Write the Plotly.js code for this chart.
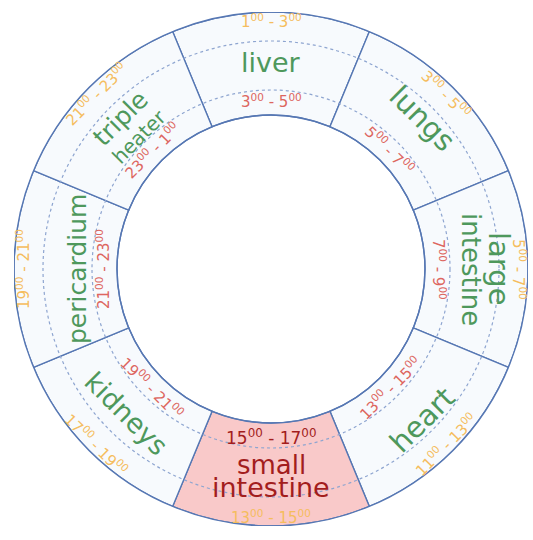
<!DOCTYPE html>
<html>
<head>
<meta charset="utf-8">
<script src="https://cdn.plot.ly/plotly-3.0.1.min.js"></script>
<style>html,body{margin:0;padding:0;background:#fff;}#chart{width:533px;height:540px;}</style>
</head>
<body>
<div id="chart"></div>
<script>
// ---- data ----
const organs = ['liver', 'lungs', 'large intestine', 'heart', 'small intestine', 'kidneys', 'pericardium', 'triple heater'];
const organLines = [['liver'], ['lungs'], ['large', 'intestine'], ['heart'], ['small', 'intestine'], ['kidneys'], ['pericardium'], ['triple', 'heater']];
const angles = [90, 45, 0, 315, 270, 225, 180, 135];
const outerFrom = [1, 3, 5, 11, 13, 17, 19, 21];
const outerTo = [3, 5, 7, 13, 15, 19, 21, 23];
const innerFrom = [3, 5, 7, 13, 15, 19, 21, 23];
const innerTo = [5, 7, 9, 15, 17, 21, 23, 1];
const highlighted = 'small intestine';

// ---- styles / geometry ----
const R_OUT = 257, R_IN = 154, R_DOT1 = 228, R_DOT2 = 179;
const SEG_WIDTH = 45;
const nameR = [207, 213, 214, 214, 207, 205, 194, 200];
const nameGap = [0, 0, 28, 0, 22, 0, 0, 26];
const nameSizes = [[27], [29], [29, 26], [29], [26, 27], [27], [25], [25, 20]];
const outerTimeR = 248, innerTimeR = 168;
const W = 533, H = 540, CX = 271, CY = 269;
const FONT = 'DejaVu Sans, sans-serif';
const C_GREEN = '#4e985c', C_ORANGE = '#f5bd5e', C_RED = '#dd665f', C_DARKRED = '#a31d1d';
const C_LINE = '#5677b3', C_FILL = '#f7fafd', C_PINK = '#f9c9c9', C_DOT = '#8ea5d0';

const fmt = h => h + '<sup>00</sup>';
const domX = [(CX - R_OUT) / W, (CX + R_OUT) / W];
const domY = [(H - CY - R_OUT) / H, (H - CY + R_OUT) / H];

const traces = [
  {
    type: 'barpolar',
    theta: angles,
    r: organs.map(() => R_OUT - R_IN),
    base: R_IN,
    width: organs.map(() => SEG_WIDTH),
    marker: {
      color: organs.map(o => o === highlighted ? C_PINK : C_FILL),
      line: {color: C_LINE, width: 1.4}
    },
    hoverinfo: 'skip',
    showlegend: false
  },
  {type: 'scatter', x: [], y: [], xaxis: 'x', yaxis: 'y', hoverinfo: 'skip', showlegend: false}
];

const deg = Math.PI / 180;
const ann = [];
function place(r, th, text, size, color) {
  const upright = th >= 0 && th <= 180;
  ann.push({
    xref: 'x', yref: 'y',
    x: r * Math.cos(th * deg), y: r * Math.sin(th * deg),
    text: text, showarrow: false, xanchor: 'center', yanchor: 'middle',
    textangle: upright ? 90 - th : 270 - th,
    font: {family: FONT, size: size, color: color}
  });
}
organs.forEach((o, i) => {
  const th = angles[i];
  const upright = th >= 0 && th <= 180;
  const lines = organLines[i];
  const n = lines.length;
  const hl = o === highlighted;
  lines.forEach((ln, j) => {
    const off = ((n - 1) / 2 - j) * nameGap[i];
    const r = nameR[i] + (upright ? off : -off);
    place(r, th, ln, nameSizes[i][j], hl ? C_DARKRED : C_GREEN);
  });
  place(outerTimeR, th, fmt(outerFrom[i]) + ' - ' + fmt(outerTo[i]), 15, C_ORANGE);
  place(innerTimeR, th, fmt(innerFrom[i]) + ' - ' + fmt(innerTo[i]), hl ? 17 : 15, hl ? C_DARKRED : C_RED);
});

const shapes = [R_DOT1, R_DOT2].map(rr => ({
  type: 'circle', xref: 'x', yref: 'y', x0: -rr, x1: rr, y0: -rr, y1: rr,
  line: {color: C_DOT, width: 1.2, dash: 'dot'}, layer: 'above'
}));
[R_OUT, R_IN].forEach(rr => shapes.push({
  type: 'circle', xref: 'x', yref: 'y', x0: -rr, x1: rr, y0: -rr, y1: rr,
  line: {color: C_LINE, width: 1.4}, layer: 'above'
}));

const layout = {
  width: W, height: H,
  margin: {l: 0, r: 0, t: 0, b: 0},
  paper_bgcolor: '#ffffff', plot_bgcolor: 'rgba(0,0,0,0)',
  showlegend: false,
  polar: {
    domain: {x: domX, y: domY},
    bgcolor: 'rgba(0,0,0,0)',
    radialaxis: {range: [0, R_OUT], visible: false},
    angularaxis: {visible: false, rotation: 0, direction: 'counterclockwise'},
    bargap: 0
  },
  xaxis: {domain: domX, range: [-R_OUT, R_OUT], visible: false, fixedrange: true},
  yaxis: {domain: domY, range: [-R_OUT, R_OUT], visible: false, fixedrange: true},
  shapes: shapes,
  annotations: ann
};

Plotly.newPlot('chart', traces, layout, {displayModeBar: false, staticPlot: true});
</script>
</body>
</html>
